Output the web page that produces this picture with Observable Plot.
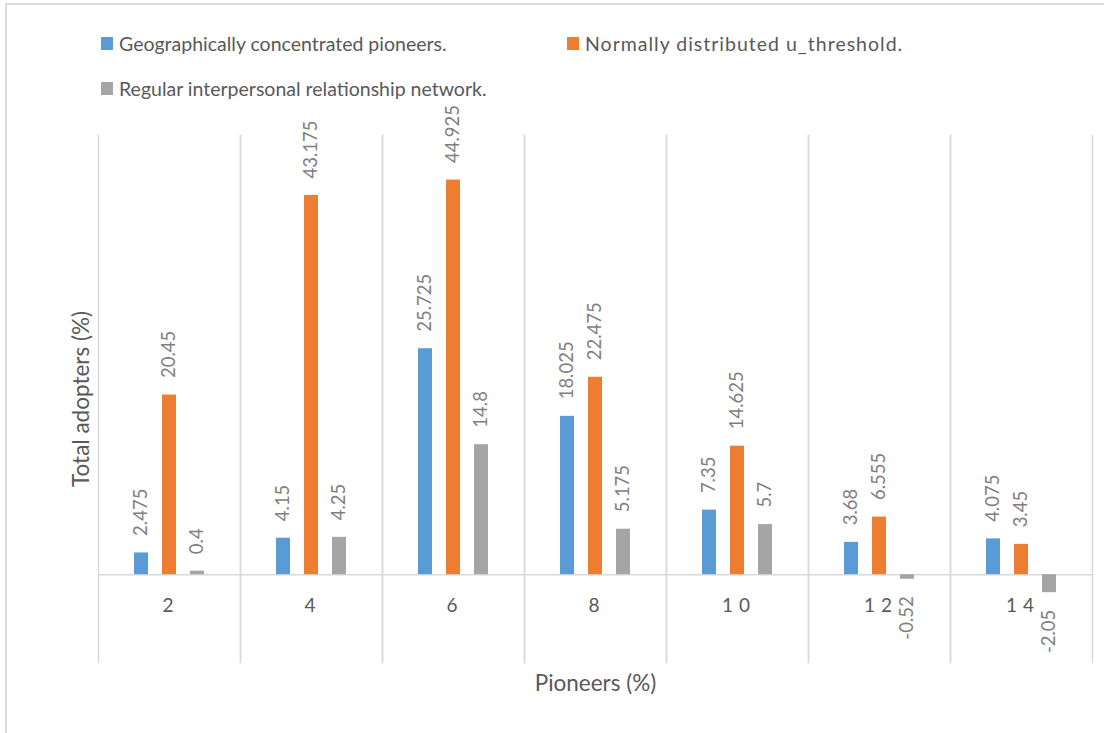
<!DOCTYPE html>
<html>
<head>
<meta charset="utf-8">
<script src="https://cdn.jsdelivr.net/npm/d3@7"></script>
<script src="https://cdn.jsdelivr.net/npm/@observablehq/plot@0.6"></script>
<style>
  body { margin: 0; background: #fff; font-family: Lato, "Open Sans", sans-serif; overflow: hidden; }
  #wrap { position: relative; width: 1104px; height: 733px; overflow: hidden; }
  #border { position: absolute; left: 5px; top: 3px; width: 1300px; height: 900px; border: 2px solid #dcdcdc; pointer-events: none; }
  #legend { position: relative; height: 115px; }
  .item { position: absolute; display: flex; align-items: center; height: 24px; color: #595959; font-size: 19.5px; white-space: nowrap; }
  .swatch { width: 12px; height: 13px; margin-right: 6px; flex: none; }
  #chart svg { display: block; }
</style>
</head>
<body>
<div id="wrap">
  <div id="border"></div>
  <div id="legend"></div>
  <div id="chart"></div>
</div>
<script>
// Share of pioneers seeded in the population (%)
const categories = [2, 4, 6, 8, 10, 12, 14];

// Total adopters (%) for each scenario
const geographic = [2.475, 4.15, 25.725, 18.025, 7.35, 3.68, 4.075];
const normalThreshold = [20.45, 43.175, 44.925, 22.475, 14.625, 6.555, 3.45];
const regularNetwork = [0.4, 4.25, 14.8, 5.175, 5.7, -0.52, -2.05];

const seriesNames = [
  "Geographically concentrated pioneers.",
  "Normally distributed u_threshold.",
  "Regular interpersonal relationship network."
];
const seriesColors = ["#5b9bd5", "#ed7d31", "#a5a5a5"];
const seriesValues = [geographic, normalThreshold, regularNetwork];

const rows = categories.flatMap((c, i) =>
  seriesNames.map((s, j) => ({pioneers: c, series: s, value: seriesValues[j][i]}))
);

// Legend: two entries on the first row, one on the second
const legendSlots = [
  {left: 101, top: 31, spacing: 0},
  {left: 567, top: 31, spacing: 1},
  {left: 101, top: 76, spacing: 0}
];
const legend = document.getElementById("legend");
seriesNames.forEach((name, i) => {
  const item = document.createElement("div");
  item.className = "item";
  item.style.left = legendSlots[i].left + "px";
  item.style.top = legendSlots[i].top + "px";
  const sw = document.createElement("span");
  sw.className = "swatch";
  sw.style.background = seriesColors[i];
  const label = document.createElement("span");
  label.textContent = name;
  label.style.letterSpacing = legendSlots[i].spacing + "px";
  item.append(sw, label);
  legend.append(item);
});

const gridColor = "#d9d9d9";
const valueColor = "#7f7f7f";
const textColor = "#595959";
const categoryFontSize = 19;

const chart = Plot.plot({
  width: 1104,
  height: 618,
  marginTop: 20,
  marginBottom: 71,
  marginLeft: 96,
  marginRight: 11,
  style: {fontFamily: "Lato, 'Open Sans', sans-serif", background: "transparent", overflow: "visible"},
  fx: {domain: categories, paddingInner: 0, paddingOuter: 0, axis: null, label: null},
  x: {domain: seriesNames, paddingInner: 0.483, paddingOuter: 1.197, axis: null},
  y: {domain: [-10, 50], axis: null},
  color: {domain: seriesNames, range: seriesColors},
  marks: [
    // category separators
    Plot.frame({anchor: "left", stroke: gridColor, strokeWidth: 1.5}),
    Plot.frame({anchor: "right", stroke: gridColor, strokeWidth: 1.5}),
    // category axis at zero
    Plot.ruleY([0], {stroke: gridColor, strokeWidth: 1.5}),
    Plot.barY(rows, {fx: "pioneers", x: "series", y: "value", fill: "series"}),
    // value labels
    Plot.text(rows.filter(d => d.value >= 0), {
      fx: "pioneers", x: "series", y: "value", text: d => String(d.value),
      rotate: -90, textAnchor: "start", dy: -17, fill: valueColor, fontSize: 18.5
    }),
    Plot.text(rows.filter(d => d.value < 0), {
      fx: "pioneers", x: "series", y: "value", text: d => String(d.value),
      rotate: -90, textAnchor: "end", dy: 17, fill: valueColor, fontSize: 18.5
    }),
    // category tick labels just under the zero line
    Plot.text(categories, {
      fx: d => d, y: () => 0, text: d => String(d), dy: 31,
      fill: textColor, fontSize: categoryFontSize
    }),
    // axis titles
    Plot.text(["Total adopters (%)"], {
      fx: () => 2, frameAnchor: "left", textAnchor: "middle", dx: -17, rotate: -90,
      fill: textColor, fontSize: 22.5
    }),
    Plot.text(["Pioneers (%)"], {
      fx: () => 8, frameAnchor: "bottom", lineAnchor: "middle", dy: 21,
      fill: textColor, fontSize: 22.5
    })
  ]
});

// Widen the digits of the category labels, Excel-style ("1 0", "1 2", …)
d3.select(chart)
  .selectAll(`g[font-size="${categoryFontSize}"] text`)
  .style("letter-spacing", "6px")
  .attr("dx", "1.5");

document.getElementById("chart").append(chart);
</script>
</body>
</html>
